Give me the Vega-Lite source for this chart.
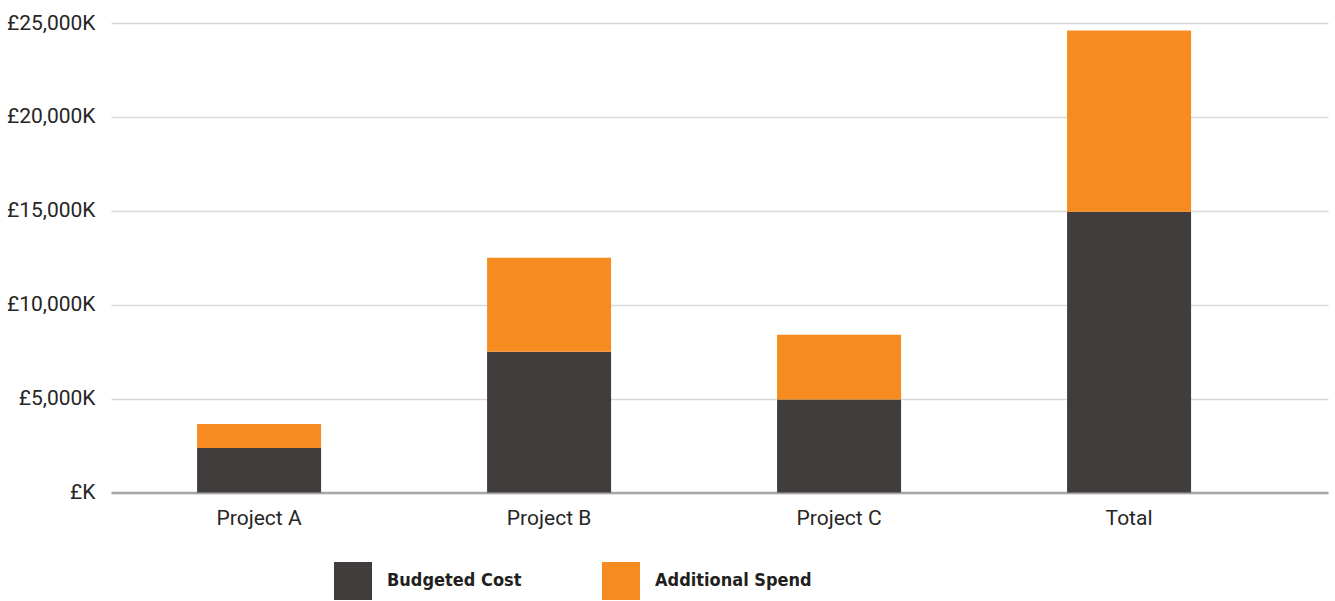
{
  "$schema": "https://vega.github.io/schema/vega-lite/v6.json",
  "width": 1217,
  "height": 469.5,
  "autosize": {"type": "none"},
  "padding": {"left": 111, "top": 23, "right": 7, "bottom": 108.5},
  "background": "white",
  "data": {
    "values": [
      {"project": "Project A", "type": "Budgeted Cost", "value": 2375},
      {"project": "Project A", "type": "Additional Spend", "value": 1275},
      {"project": "Project B", "type": "Budgeted Cost", "value": 7500},
      {"project": "Project B", "type": "Additional Spend", "value": 5000},
      {"project": "Project C", "type": "Budgeted Cost", "value": 4950},
      {"project": "Project C", "type": "Additional Spend", "value": 3450},
      {"project": "Total", "type": "Budgeted Cost", "value": 14950},
      {"project": "Total", "type": "Additional Spend", "value": 9650}
    ]
  },
  "config": {
    "view": {"stroke": null},
    "font": "Roboto"
  },
  "mark": {"type": "bar"},
  "encoding": {
    "x": {
      "field": "project",
      "type": "nominal",
      "sort": ["Project A", "Project B", "Project C", "Total"],
      "scale": {"paddingInner": 0.5724, "paddingOuter": 0.3845, "align": 0.386},
      "axis": {
        "title": null,
        "labelAngle": 0,
        "ticks": false,
        "domain": true,
        "domainColor": "#a6a6a6",
        "domainWidth": 2.5,
        "labelFont": "Roboto",
        "labelFontSize": 21,
        "labelColor": "#262626",
        "labelPadding": 15
      }
    },
    "y": {
      "field": "value",
      "type": "quantitative",
      "stack": "zero",
      "scale": {"domain": [0, 25000], "nice": false},
      "axis": {
        "title": null,
        "values": [0, 5000, 10000, 15000, 20000, 25000],
        "labelExpr": "datum.value == 0 ? '£K' : '£' + format(datum.value, ',') + 'K'",
        "domain": false,
        "ticks": false,
        "grid": true,
        "gridColor": "#d9d9d9",
        "gridWidth": 1.5,
        "labelFont": "Roboto",
        "labelFontSize": 21,
        "labelColor": "#262626",
        "labelPadding": 16
      }
    },
    "color": {
      "field": "type",
      "type": "nominal",
      "scale": {"domain": ["Budgeted Cost", "Additional Spend"], "range": ["#413d3c", "#f68c1f"]},
      "legend": {
        "title": null,
        "orient": "none",
        "legendX": 223,
        "legendY": 539,
        "direction": "horizontal",
        "symbolType": "square",
        "symbolSize": 1444,
        "symbolStrokeWidth": 0,
        "labelFont": "DejaVu Sans Condensed, Roboto",
        "labelFontWeight": "bold",
        "labelFontSize": 18,
        "labelColor": "#231f20",
        "labelOffset": 15,
        "columnPadding": 80,
        "labelLimit": 400
      }
    },
    "order": {"field": "type", "sort": "descending"}
  }
}
